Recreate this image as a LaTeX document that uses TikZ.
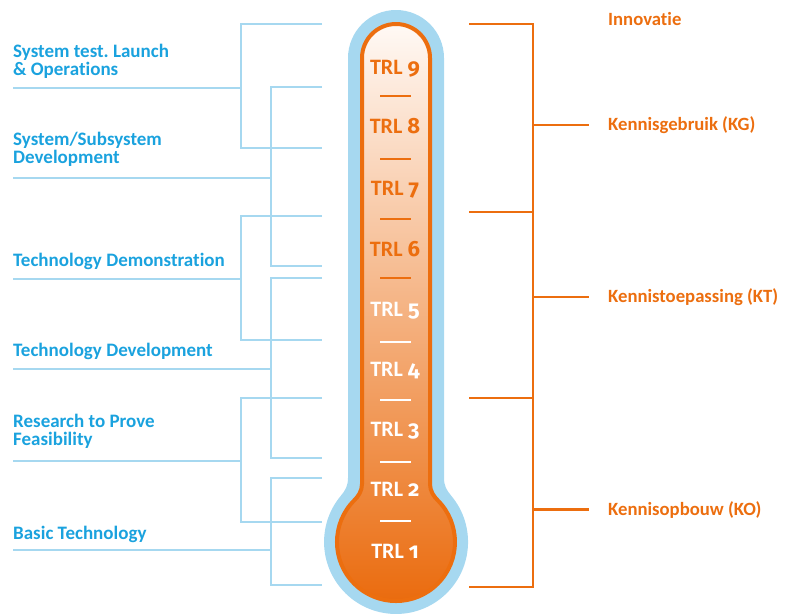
\documentclass[tikz,border=0pt]{standalone}
\usepackage{fontspec}
\setmainfont{Carlito}[Ligatures=NoCommon]
\newfontfamily\trlnum{Fira Sans}[Numbers=OldStyle]
\usetikzlibrary{calc}
\frenchspacing

\definecolor{phaseblue}{HTML}{1AA2DE}
\definecolor{lineblue}{HTML}{A6D8F0}
\definecolor{trlorange}{HTML}{EC6E0F}
\definecolor{tubetop}{HTML}{FFF9F5}
\definecolor{tubemid}{HTML}{F6C29C}
\definecolor{tubebot}{HTML}{EA6A0C}

\tikzset{
    phase/.style={
        anchor=base west,
        align=left,
        inner sep=0pt,
        text=phaseblue,
        font=\fontsize{19}{18}\selectfont\bfseries,
    },
    stage/.style={
        anchor=base west,
        inner sep=0pt,
        text=trlorange,
        font=\fontsize{18.7}{18}\selectfont\bfseries,
    },
    trl/.style={
        anchor=base,
        inner sep=0pt,
        font=\fontsize{22}{22}\selectfont\bfseries,
    },
    bracket/.style={
        draw=lineblue,
        line width=2pt,
    },
    kbracket/.style={
        draw=trlorange,
        line width=2.2pt,
    },
    notch/.style={
        line width=2pt,
    }
}

\begin{document}
\begin{tikzpicture}[x=1pt, y=1pt, yscale=-1]
    \useasboundingbox (0,0) rectangle (788,614);

    % thermometer, outer glass
    \path[fill=lineblue] (348,58) arc[start angle=180, end angle=360, radius=48]
        -- (444,478) .. controls (444,486) and (446.7,490.3) .. (451.2,495.7)
        arc[start angle=-40, end angle=220, radius=72]
        .. controls (345.3,490.3) and (348,486) .. (348,478) -- cycle;
    % thermometer, filling
    \path[draw=trlorange, line width=4pt,
          top color=tubetop, middle color=tubemid, bottom color=tubebot]
        (362,58) arc[start angle=180, end angle=360, radius=34]
        -- (430,484) .. controls (430,491) and (433.7,496.3) .. (437.7,500.3)
        arc[start angle=-45, end angle=225, radius=59]
        .. controls (358.3,496.3) and (362,491) .. (362,484) -- cycle;

    \foreach \n/\yb in {9/74,8/133.5,7/195,6/256}
        \node[trl, text=trlorange] (trl\n) at (395,\yb) {TRL {\trlnum\n}};
    \foreach \n/\yb in {5/316.5,4/376.5,3/436.5,2/496.5,1/558}
        \node[trl, text=white] (trl\n) at (395,\yb) {TRL {\trlnum\n}};

    \foreach \y in {96,159,219,278}
        \draw[notch, trlorange] (380,\y) -- (411,\y);
    \foreach \y in {342,400,462,521}
        \draw[notch, white] (380,\y) -- (411,\y);

    % phases on the left (base = last line)
    \node[phase] (launch)  at (13,75)    {System test. Launch\\\& Operations};
    \node[phase] (subsys)  at (13,163.7) {System/Subsystem\\Development};
    \node[phase] (demo)    at (13,266.5) {Technology Demonstration};
    \node[phase] (techdev) at (13,356.7) {Technology Development};
    \node[phase] (feasib)  at (13,445.7) {Research to Prove\\Feasibility};
    \node[phase] (basic)   at (13,539)   {Basic Technology};

    \foreach \i/\xv/\yt/\yb/\ym in {1/241/24/148/88, 2/271/87/266/178,
            3/241/216/340/279, 4/271/278/458/369,
            5/241/398/522/461, 6/271/478/585/550} {
        \coordinate (top\i) at (322,\yt);
        \coordinate (bot\i) at (322,\yb);
        \coordinate (jn\i) at (\xv,\ym);
        \coordinate (ln\i) at (13,\ym);
    }
    \foreach \i in {1,...,6} {
        \draw[bracket] (top\i) -| (jn\i) |- (bot\i);
        \draw[bracket] (ln\i) -- (jn\i);
    }

    % stages on the right
    \node[stage] (innov) at (608,25.7)  {Innovatie};
    \node[stage] (kg)    at (608,130)   {Kennisgebruik (KG)};
    \node[stage] (kt)    at (608,302.3) {Kennistoepassing (KT)};
    \node[stage] (ko)    at (608,515)   {Kennisopbouw (KO)};

    \foreach \i/\y in {1/24,2/212,3/398,4/587} {
        \coordinate (rt\i) at (469,\y);
        \coordinate (sp\i) at (533,\y);
    }
    \draw[kbracket] (rt1) -- (sp1) -- (sp4) -- (rt4);
    \draw[kbracket] (rt2) -- (sp2);
    \draw[kbracket] (rt3) -- (sp3);
    \foreach \s in {kg,kt,ko}
        \draw[kbracket, shorten >=19pt] (\s.west -| sp1) -- (\s.west);
\end{tikzpicture}
\end{document}
